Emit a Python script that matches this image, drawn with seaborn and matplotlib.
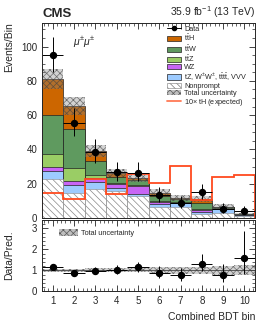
import numpy as np
import pandas as pd
import seaborn as sns
import matplotlib.pyplot as plt
from matplotlib.patches import Patch
from matplotlib.lines import Line2D
from matplotlib.ticker import MultipleLocator

# bins and yields
bins = list(range(1, 11))
edges = [0.5 + i for i in range(11)]

nonprompt = [23, 14.5, 17, 16, 13, 6.5, 6.5, 2.5, 3.0, 1.0]
other = [4.5, 4.5, 4.0, 1.5, 1.2, 1.8, 2.2, 1.0, 2.0, 0.7]
wz = [2.5, 2.8, 2.3, 2.2, 4.5, 0.8, 0.3, 1.2, 0.3, 0.1]
ttz = [7.5, 7.3, 1.5, 0.8, 0.8, 1.0, 0.5, 0.8, 0.4, 0.2]
ttw = [22.5, 23, 8.5, 3.5, 2.8, 3.0, 1.5, 3.5, 0.5, 0.3]
tth = [21, 13, 6.0, 2.0, 0.8, 1.6, 0.8, 2.3, 0.5, 0.2]
th_x10 = [14.7, 10.9, 23, 13.8, 25.5, 20.5, 30.4, 10.5, 23.8, 25]
rel_unc = [0.07, 0.08, 0.09, 0.09, 0.09, 0.14, 0.15, 0.16, 0.22, 0.24]

data = [95, 55.5, 38.5, 26.7, 26.5, 13.2, 9.0, 15.0, 5.3, 4.0]
data_up = [10.8, 8.5, 7.3, 6.2, 6.2, 4.7, 4.1, 4.9, 3.4, 3.2]
data_dn = [9.7, 7.4, 6.2, 5.1, 5.1, 3.6, 3.0, 3.8, 2.2, 1.9]

labels = [r'$\mathrm{t\bar{t}H}$', r'$\mathrm{t\bar{t}W}$', r'$\mathrm{t\bar{t}Z}$', 'WZ',
          r'tZ, W$^{\pm}$W$^{\pm}$, $\mathrm{t\bar{t}t\bar{t}}$, VVV', 'Nonprompt']
colors = ['#cc6600', '#5f9a5f', '#9acd65', '#c865f5', '#9dcbff', 'white']

sns.set_style("ticks")
plt.rcParams['font.family'] = ['Liberation Sans', 'DejaVu Sans']
plt.rcParams['mathtext.fontset'] = 'custom'
plt.rcParams['mathtext.rm'] = 'Liberation Sans'
plt.rcParams['mathtext.it'] = 'Liberation Sans:italic'
plt.rcParams['hatch.linewidth'] = 0.5

fig = plt.figure(figsize=(2.66, 3.22), dpi=100)
ax = fig.add_axes([0.158, 0.323, 0.801, 0.607])
rax = fig.add_axes([0.158, 0.095, 0.801, 0.222])

############### STACK (drawn top-down, cumulative) ###############
layers = [tth, ttw, ttz, wz, other, nonprompt]
stack = np.array(layers)
cum = stack[::-1].cumsum(axis=0)[::-1]  # cum[i] = layer i + everything below
total = cum[0]

for i in range(len(layers)):
    df = pd.DataFrame({'bin': bins, 'w': cum[i]})
    if i == len(layers) - 1:
        sns.histplot(data=df, x='bin', weights='w', discrete=True, color='white', alpha=1,
                     edgecolor='#888888', linewidth=0.4, hatch='\\\\\\\\\\', ax=ax)
    else:
        sns.histplot(data=df, x='bin', weights='w', discrete=True, color=colors[i], alpha=1,
                     edgecolor='#222222', linewidth=0.5, ax=ax)

# total uncertainty band
unc = total * np.array(rel_unc)
ax.bar(bins, 2 * unc, bottom=total - unc, width=1.0, facecolor=(0.5, 0.5, 0.5, 0.35),
       edgecolor=(0.25, 0.25, 0.25, 0.7), hatch='xxxxx', linewidth=0)

# 10x tH expected
ax.stairs(th_x10, edges, color='#ff4a1f', linewidth=1.3)

# data
ax.errorbar(bins, data, yerr=[data_dn, data_up], xerr=0.5, fmt='o', color='black',
            ms=4.3, elinewidth=0.7, capsize=0)

ax.set_xlim(0.5, 10.5)
ax.set_ylim(0, 114)
ax.set_xlabel('')
ax.set_ylabel('Events/Bin', fontsize=7.5, loc='top')
ax.tick_params(axis='both', which='both', direction='in', top=True, right=True, labelsize=7)
ax.tick_params(axis='x', labelbottom=False)
ax.tick_params(which='major', length=4, width=0.6)
ax.tick_params(which='minor', length=2, width=0.5)
ax.xaxis.set_major_locator(MultipleLocator(1))
ax.xaxis.set_minor_locator(MultipleLocator(0.2))
ax.yaxis.set_major_locator(MultipleLocator(20))
ax.yaxis.set_minor_locator(MultipleLocator(5))

ax.text(0.0, 1.015, 'CMS', transform=ax.transAxes, ha='left', va='bottom',
        fontsize=9.5, fontweight='bold')
ax.text(1.0, 1.015, r'35.9 fb$^{-1}$ (13 TeV)', transform=ax.transAxes, ha='right',
        va='bottom', fontsize=7.5)
ax.text(0.146, 0.90, r'$\mu^{\pm}\mu^{\pm}$', transform=ax.transAxes, ha='left',
        va='center', fontsize=7.5)

handles = [Line2D([], [], color='black', marker='o', ms=3, lw=0.7)]
for i in range(len(layers)):
    if i == len(layers) - 1:
        handles.append(Patch(facecolor='white', edgecolor='#777777', hatch='\\\\\\\\\\', lw=0.4))
    else:
        handles.append(Patch(facecolor=colors[i], edgecolor='#222222', lw=0.5))
handles.append(Patch(facecolor=(0.5, 0.5, 0.5, 0.5), edgecolor=(0.25, 0.25, 0.25, 0.8),
                     hatch='xxxxx', lw=0))
handles.append(Line2D([], [], color='#ff7a55', lw=1.3))
leg_labels = ['Data'] + labels + ['Total uncertainty', r'10$\times$ tH (expected)']
ax.legend(handles, leg_labels, loc='upper left', bbox_to_anchor=(0.57, 1.0), frameon=False,
          fontsize=5.2, handlelength=2.0, handleheight=0.75, labelspacing=0.0,
          handletextpad=0.4, borderaxespad=0.2, borderpad=0.25)

############### RATIO ###############
ratio = np.array(data) / total
r_up = np.array(data_up) / total
r_dn = np.array(data_dn) / total

rax.bar(bins, 2 * np.array(rel_unc), bottom=1 - np.array(rel_unc), width=1.0,
        facecolor=(0.5, 0.5, 0.5, 0.35), edgecolor=(0.25, 0.25, 0.25, 0.7),
        hatch='xxxxx', linewidth=0)
rax.axhline(1, color='#444444', lw=0.6)
rax.errorbar(bins, ratio, yerr=[r_dn, r_up], xerr=0.5, fmt='o', color='black',
             ms=4.3, elinewidth=0.7, capsize=0)
rax.set_xlim(0.5, 10.5)
rax.set_ylim(0, 3.4)
rax.set_xlabel('Combined BDT bin', fontsize=7.5, loc='right')
rax.set_ylabel('Data/Pred.', fontsize=7.5)
rax.tick_params(axis='both', which='both', direction='in', top=True, right=True, labelsize=7)
rax.tick_params(which='major', length=4, width=0.6)
rax.tick_params(which='minor', length=2, width=0.5)
rax.xaxis.set_major_locator(MultipleLocator(1))
rax.xaxis.set_minor_locator(MultipleLocator(0.2))
rax.yaxis.set_major_locator(MultipleLocator(1))
rax.yaxis.set_minor_locator(MultipleLocator(0.2))
rax.legend([Patch(facecolor=(0.5, 0.5, 0.5, 0.5), edgecolor=(0.25, 0.25, 0.25, 0.8),
                  hatch='xxxxx', lw=0)], ['Total uncertainty'], loc='upper left',
           bbox_to_anchor=(0.05, 0.97), frameon=False, fontsize=5.3, handlelength=2.6,
           handleheight=1.2, handletextpad=0.4)

for a in (ax, rax):
    for s in a.spines.values():
        s.set_linewidth(0.7)
ax.yaxis.set_label_coords(-0.13, 1.0)
rax.yaxis.set_label_coords(-0.13, 0.5)

fig.savefig('out.png', dpi=100)
